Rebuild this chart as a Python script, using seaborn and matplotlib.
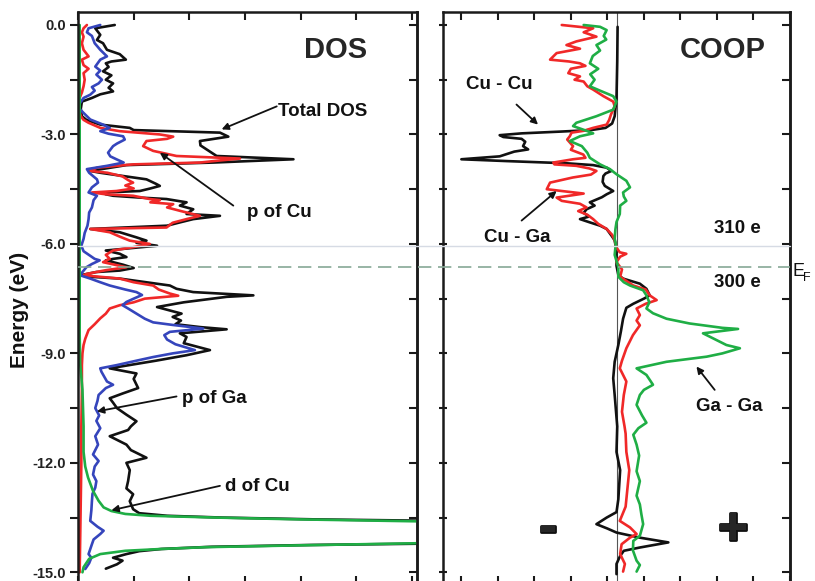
import numpy as np
import matplotlib as mpl
import matplotlib.pyplot as plt
import matplotlib.transforms as mtransforms
import matplotlib.patheffects as pe
from matplotlib.lines import Line2D
import seaborn as sns

mpl.use("Agg")

# ---------------- DOS panel (energy in eV, DOS in arbitrary units) ----------------
total_E = [0.0, -0.09, -0.27, -0.41, -0.5, -0.68, -0.8, -0.95, -1.0, -1.05, -1.15, -1.27,
           -1.38, -1.5, -1.6, -1.72, -1.82, -1.9, -2.0, -2.1, -2.3, -2.5, -2.6, -2.73, -2.82,
           -2.88, -2.95, -3.06, -3.18, -3.3, -3.41, -3.59, -3.68, -3.77, -3.84, -4.0, -4.05,
           -4.23, -4.36, -4.41, -4.48, -4.55, -4.59, -4.64, -4.68, -4.73, -4.77, -4.86, -4.95,
           -5.05, -5.18, -5.23, -5.32, -5.41, -5.5, -5.59, -5.68, -5.82, -5.91, -5.97, -6.05,
           -6.09, -6.18, -6.27, -6.36, -6.41, -6.45, -6.57, -6.66, -6.73, -6.77, -6.86, -6.9,
           -6.95, -7.14, -7.23, -7.32, -7.41, -7.45, -7.6, -7.73, -7.91, -8.0, -8.1, -8.2,
           -8.28, -8.34, -8.45, -8.55, -8.72, -8.91, -9.05, -9.2, -9.41, -9.55, -9.7, -9.95,
           -10.1, -10.23, -10.35, -10.5, -10.68, -10.86, -11.0, -11.1, -11.27, -11.5, -11.65,
           -11.86, -12.0, -12.2, -12.5, -12.7, -12.86, -13.05, -13.27, -13.38, -13.45, -13.5,
           -13.55, -13.6, -13.66, -13.9, -14.15, -14.2, -14.25, -14.3, -14.36, -14.42, -14.5,
           -14.6, -14.68, -14.78, -14.86, -14.9]
total_D = [0.66, 0.31, 0.4, 0.34, 0.45, 0.52, 0.75, 0.86, 0.6, 0.5, 0.55, 0.45, 0.6, 0.5,
           0.63, 0.55, 0.63, 0.4, 0.25, 0.07, 0.05, 0.07, 0.15, 0.4, 0.93, 1.0, 2.55, 2.7,
           2.19, 2.2, 2.31, 2.49, 3.87, 2.43, 0.87, 0.22, 0.4, 1.23, 1.41, 1.47, 1.3, 1.11,
           0.45, 0.5, 0.63, 1.11, 1.59, 1.95, 1.83, 2.07, 1.95, 2.55, 2.07, 1.83, 1.6, 0.22,
           0.75, 1.05, 1.23, 1.05, 1.42, 1.13, 0.5, 0.75, 0.87, 0.63, 0.5, 0.81, 1.0, 0.75,
           0.33, 0.04, 0.22, 0.75, 1.65, 1.77, 2.07, 3.15, 2.67, 1.9, 1.42, 1.86, 1.7, 1.85,
           1.75, 2.2, 2.67, 1.83, 1.95, 1.9, 2.37, 1.95, 1.4, 0.57, 1.05, 1.0, 1.08, 0.8, 0.57,
           0.63, 0.7, 0.87, 1.05, 0.95, 0.9, 0.57, 0.87, 0.95, 1.23, 0.87, 0.93, 0.9, 0.87,
           0.99, 0.93, 0.99, 1.1, 1.6, 2.6, 4.3, 7.0, 10.0, 14.0, 10.0, 7.0, 4.2, 2.4, 1.5,
           1.1, 0.87, 0.63, 0.8, 0.7, 0.57, 0.5]

pCu_E = [0.0, -0.09, -0.2, -0.32, -0.5, -0.68, -0.86, -0.95, -1.1, -1.2, -1.32, -1.5, -1.68,
         -1.85, -2.0, -2.3, -2.5, -2.6, -2.68, -2.82, -2.91, -3.0, -3.06, -3.12, -3.18, -3.32,
         -3.45, -3.59, -3.66, -3.72, -3.77, -3.82, -3.91, -4.0, -4.05, -4.15, -4.25, -4.32,
         -4.4, -4.48, -4.55, -4.59, -4.64, -4.68, -4.77, -4.8, -4.86, -4.91, -5.0, -5.1,
         -5.23, -5.32, -5.42, -5.55, -5.59, -5.68, -5.8, -5.91, -6.0, -6.09, -6.18, -6.3,
         -6.41, -6.5, -6.64, -6.72, -6.82, -6.86, -6.95, -7.05, -7.14, -7.25, -7.36, -7.42,
         -7.5, -7.6, -7.68, -7.77, -7.91, -8.04, -8.2, -8.36, -8.6, -8.77, -9.0, -9.32,
         -10.0, -11.0, -12.0, -13.0, -14.0, -15.0]
pCu_D = [0.16, 0.1, 0.07, 0.1, 0.07, 0.1, 0.19, 0.07, 0.1, 0.19, 0.1, 0.12, 0.1, 0.07, 0.03,
         0.02, 0.05, 0.1, 0.19, 0.4, 0.75, 1.47, 1.71, 1.6, 1.23, 1.17, 1.35, 1.77, 2.91,
         2.5, 2.19, 0.99, 0.34, 0.22, 0.53, 0.8, 0.9, 0.99, 0.85, 1.0, 0.69, 0.25, 0.5, 0.99,
         1.29, 1.47, 1.3, 1.71, 1.6, 1.85, 2.19, 1.95, 1.7, 1.59, 0.22, 0.57, 0.75, 0.93,
         1.29, 0.99, 0.63, 0.5, 0.57, 0.45, 0.87, 0.5, 0.16, 0.1, 0.75, 1.0, 1.35, 1.45,
         1.65, 1.8, 1.2, 1.0, 0.75, 0.57, 0.5, 0.4, 0.3, 0.19, 0.13, 0.1, 0.08, 0.07, 0.07,
         0.06, 0.06, 0.05, 0.04, 0.03]

pGa_E = [0.0, -0.09, -0.2, -0.3, -0.5, -0.68, -0.86, -0.95, -1.14, -1.25, -1.36, -1.5, -1.6,
         -1.7, -1.8, -1.91, -2.0, -2.15, -2.3, -2.41, -2.59, -2.73, -2.82, -2.91, -2.98,
         -3.05, -3.14, -3.25, -3.32, -3.5, -3.6, -3.68, -3.77, -3.86, -3.95, -4.05, -4.23,
         -4.32, -4.45, -4.59, -4.68, -4.8, -5.0, -5.14, -5.32, -5.5, -5.7, -5.86, -6.05,
         -6.2, -6.41, -6.45, -6.55, -6.64, -6.77, -6.86, -6.95, -7.05, -7.14, -7.25, -7.32,
         -7.4, -7.5, -7.59, -7.68, -7.77, -7.91, -8.05, -8.15, -8.22, -8.32, -8.41, -8.5,
         -8.62, -8.75, -8.91, -9.0, -9.1, -9.2, -9.32, -9.41, -9.5, -9.77, -9.86, -9.95,
         -10.14, -10.3, -10.5, -10.7, -10.85, -11.05, -11.27, -11.5, -11.77, -11.95, -12.1,
         -12.32, -12.5, -12.68, -12.85, -13.05, -13.3, -13.59, -13.75, -13.86, -13.95,
         -14.1, -14.23, -14.5, -14.6, -14.75, -14.91]
pGa_D = [0.4, 0.19, 0.16, 0.25, 0.3, 0.4, 0.52, 0.4, 0.31, 0.4, 0.33, 0.43, 0.37, 0.25, 0.3,
         0.22, 0.1, 0.03, 0.03, 0.1, 0.22, 0.45, 0.57, 0.4, 0.55, 0.81, 0.84, 0.7, 0.63,
         0.54, 0.58, 0.69, 0.82, 0.52, 0.16, 0.2, 0.34, 0.36, 0.25, 0.19, 0.34, 0.28, 0.25,
         0.2, 0.19, 0.17, 0.12, 0.1, 0.06, 0.1, 0.3, 0.39, 0.25, 0.15, 0.08, 0.04, 0.22, 0.4,
         0.57, 0.85, 1.05, 1.15, 1.0, 0.87, 0.8, 0.9, 1.05, 1.2, 1.35, 1.7, 2.25, 1.65, 1.55,
         1.6, 1.75, 2.1, 1.7, 1.35, 1.05, 0.7, 0.4, 0.42, 0.52, 0.63, 0.5, 0.37, 0.35, 0.31,
         0.38, 0.33, 0.4, 0.31, 0.36, 0.27, 0.37, 0.3, 0.27, 0.33, 0.31, 0.26, 0.25, 0.24,
         0.22, 0.35, 0.46, 0.4, 0.28, 0.25, 0.19, 0.24, 0.2, 0.13]

dCu_E = [0.0, -8.5, -9.3, -10.0, -11.0, -11.7, -12.1, -12.4, -12.77, -13.04, -13.22, -13.32,
         -13.4, -13.45, -13.5, -13.55, -13.6, -13.66, -13.9, -14.15, -14.2, -14.26, -14.31,
         -14.36, -14.41, -14.5, -14.63, -14.86, -15.0]
dCu_D = [0.03, 0.03, 0.04, 0.08, 0.1, 0.1, 0.13, 0.18, 0.27, 0.37, 0.46, 0.6, 0.85, 1.3,
         2.5, 4.0, 6.0, 9.0, 14.0, 9.0, 6.2, 4.0, 2.3, 1.5, 0.85, 0.4, 0.2, 0.1, 0.08]

# ---------------- COOP panel ----------------
cucu_E = [-0.05, -1.0, -2.0, -2.5, -2.7, -2.82, -2.88, -2.92, -2.97, -3.02, -3.07, -3.12,
          -3.2, -3.32, -3.41, -3.47, -3.6, -3.68, -3.73, -3.79, -3.84, -3.91, -4.0, -4.07,
          -4.14, -4.3, -4.41, -4.55, -4.64, -4.72, -4.86, -4.95, -5.05, -5.15, -5.25, -5.32,
          -5.41, -5.5, -5.59, -5.77, -5.9, -6.2, -6.6, -6.85, -6.95, -7.09, -7.23, -7.41,
          -7.5, -7.64, -7.75, -8.05, -8.4, -8.77, -9.23, -9.68, -10.14, -11.0, -11.7, -12.2,
          -13.0, -13.35, -13.5, -13.68, -13.8, -13.91, -14.05, -14.18, -14.32, -14.41,
          -14.55, -14.77, -15.05]
cucu_C = [0.03, 0.02, 0.0, -0.05, -0.12, -0.3, -0.7, -1.5, -2.6, -3.2, -3.1, -2.6, -2.5,
          -2.56, -2.42, -2.8, -3.2, -4.25, -3.0, -1.37, -0.64, -0.27, -0.14, -0.3, -0.36,
          -0.38, -0.32, -0.09, -0.27, -0.4, -0.73, -0.6, -0.82, -0.9, -0.75, -1.0, -0.73,
          -0.45, -0.27, -0.14, -0.05, 0.0, 0.0, 0.05, 0.18, 0.64, 0.82, 0.91, 0.75, 0.46,
          0.27, 0.18, 0.12, 0.05, -0.05, -0.09, -0.05, 0.02, 0.0, 0.1, 0.05, 0.0, -0.27,
          -0.55, -0.25, 0.0, 0.64, 1.42, 0.64, 0.2, 0.1, 0.0, 0.0]

cuga_E = [0.0, -0.09, -0.2, -0.32, -0.45, -0.55, -0.65, -0.77, -0.95, -1.0, -1.05, -1.12,
          -1.2, -1.32, -1.41, -1.5, -1.55, -1.68, -1.77, -1.95, -2.1, -2.23, -2.45, -2.6,
          -2.73, -2.82, -2.9, -2.95, -3.05, -3.14, -3.32, -3.42, -3.55, -3.64, -3.68, -3.77,
          -3.82, -3.86, -3.93, -4.0, -4.1, -4.18, -4.32, -4.5, -4.55, -4.62, -4.68, -4.73,
          -4.82, -4.9, -5.0, -5.1, -5.2, -5.32, -5.45, -5.59, -5.75, -5.9, -6.1, -6.23,
          -6.27, -6.35, -6.5, -6.7, -6.9, -7.0, -7.14, -7.25, -7.41, -7.54, -7.64, -7.77,
          -7.95, -8.1, -8.23, -8.5, -8.86, -9.2, -9.41, -9.77, -10.14, -10.6, -11.0, -11.2,
          -11.7, -12.2, -12.7, -13.2, -13.59, -13.77, -13.95, -14.05, -14.23, -14.5, -14.77,
          -14.98]
cuga_C = [-1.5, -0.64, -0.9, -0.55, -1.1, -1.37, -1.0, -1.64, -1.82, -1.3, -1.0, -0.85,
          -1.25, -1.32, -1.0, -1.15, -0.9, -0.8, -0.64, -0.36, -0.09, -0.05, -0.15, -0.2,
          -0.27, -0.64, -0.9, -1.23, -1.28, -1.35, -1.19, -1.25, -0.91, -0.85, -1.19, -1.73,
          -1.7, -1.1, -0.75, -0.55, -0.7, -1.2, -1.82, -1.91, -1.5, -0.9, -1.3, -1.64, -1.5,
          -1.0, -0.82, -1.05, -0.8, -0.64, -0.5, -0.27, -0.12, -0.05, 0.0, 0.09, 0.27, 0.1,
          0.0, 0.15, 0.1, 0.25, 0.46, 0.8, 0.91, 1.1, 0.8, 0.55, 0.64, 0.55, 0.64, 0.45,
          0.27, 0.15, 0.09, 0.27, 0.2, 0.15, 0.22, 0.25, 0.27, 0.35, 0.3, 0.25, 0.09, 0.37,
          0.55, 0.37, 0.14, 0.1, 0.23, 0.18]

gaga_E = [0.0, -0.05, -0.14, -0.3, -0.4, -0.55, -0.7, -0.85, -1.05, -1.2, -1.35, -1.5,
          -1.68, -1.8, -1.95, -2.1, -2.32, -2.5, -2.68, -2.77, -2.9, -2.97, -3.05, -3.18,
          -3.32, -3.5, -3.64, -3.82, -3.95, -4.09, -4.27, -4.45, -4.59, -4.7, -4.82, -4.95,
          -5.18, -5.4, -5.6, -5.86, -6.0, -6.3, -6.64, -6.9, -7.05, -7.14, -7.27, -7.41,
          -7.6, -7.77, -7.9, -8.05, -8.18, -8.3, -8.33, -8.45, -8.59, -8.77, -8.86, -9.0,
          -9.09, -9.23, -9.41, -9.59, -9.86, -10.0, -10.14, -10.41, -10.7, -10.9, -11.05,
          -11.23, -11.5, -11.8, -12.23, -12.5, -12.9, -13.14, -13.4, -13.68, -14.0, -14.14,
          -14.4, -14.68, -14.8, -14.98]
gaga_C = [-0.9, -0.45, -0.27, -0.35, -0.28, -0.55, -0.45, -0.65, -0.73, -0.5, -0.72, -0.6,
          -0.73, -0.45, -0.09, 0.0, -0.09, -0.55, -1.1, -1.19, -0.82, -0.64, -1.0, -1.28,
          -0.95, -0.8, -0.73, -0.45, -0.18, 0.0, 0.27, 0.37, 0.18, 0.2, 0.27, 0.1, 0.09, 0.0,
          -0.03, -0.05, -0.02, -0.05, 0.05, 0.05, 0.2, 0.37, 0.73, 0.82, 0.9, 0.82, 1.0,
          1.37, 2.0, 2.9, 3.33, 2.37, 2.65, 3.01, 3.38, 2.9, 2.47, 1.37, 0.55, 0.82, 1.0,
          0.75, 0.64, 0.55, 0.7, 0.82, 0.6, 0.46, 0.55, 0.62, 0.55, 0.64, 0.55, 0.64, 0.68,
          0.73, 0.64, 0.46, 0.45, 0.55, 0.64, 0.55]

E_TICKS = [0.0, -1.5, -3.0, -4.5, -6.0, -7.5, -9.0, -10.5, -12.0, -13.5, -15.0]
E_LABELS = ["0.0", "", "-3.0", "", "-6.0", "", "-9.0", "", "-12.0", "", "-15.0"]
DOS_TICKS = [0, 1, 2, 3, 4, 5, 6]
COOP_TICKS = [-4.25, -3.25, -2.25, -1.25, -0.25, 0.75, 1.75, 2.75, 3.75, 4.75]
E_FERMI = -6.63
E_310 = -6.05

BLACK = "#111111"
RED = "#f02828"
BLUE = "#3545bc"
GREEN = "#1fae45"
LW = 1.9
SPINE = "#1a1a1a"

sns.set_style("white")
plt.rcParams["font.family"] = ["Liberation Sans", "DejaVu Sans"]

W, H = 815, 581
fig = plt.figure(figsize=(W / 100, H / 100), dpi=100)
ax1 = fig.add_axes([78 / W, -3 / H, 339 / W, 572 / H])
ax2 = fig.add_axes([443 / W, -3 / H, 347 / W, 572 / H])
YLIM = (-15.32, 0.356)


def style_axes(ax, xticks, left_dir):
    ax.set_ylim(*YLIM)
    for sp in ax.spines.values():
        sp.set_linewidth(1.8)
        sp.set_color(SPINE)
    ax.set_xticks(xticks)
    ax.set_xticklabels([])
    ax.tick_params(axis="x", top=True, bottom=True, direction="in",
                   length=5.5, width=1.5, color=SPINE)
    ax.set_yticks(E_TICKS)
    ax.tick_params(axis="y", left=True, right=False, direction=left_dir,
                   length=5.5, width=1.5, color=SPINE)
    sec = ax.secondary_yaxis("right")
    sec.set_yticks(E_TICKS)
    sec.set_yticklabels([])
    sec.tick_params(direction="in", length=5.5, width=1.5, color=SPINE)
    sec.spines["right"].set_linewidth(1.8)
    sec.spines["right"].set_color(SPINE)
    ax.set_xlabel("")
    ax.set_ylabel("")


# DOS panel
sns.lineplot(x=total_D, y=total_E, sort=False, estimator=None, color=BLACK, lw=LW, ax=ax1)
sns.lineplot(x=pCu_D, y=pCu_E, sort=False, estimator=None, color=RED, lw=LW, ax=ax1)
sns.lineplot(x=pGa_D, y=pGa_E, sort=False, estimator=None, color=BLUE, lw=LW, ax=ax1)
sns.lineplot(x=dCu_D, y=dCu_E, sort=False, estimator=None, color=GREEN, lw=LW, ax=ax1)
ax1.set_xlim(0, 339 / 55.67)
style_axes(ax1, DOS_TICKS, "out")
ax1.set_yticklabels(E_LABELS, fontsize=10.5, fontweight="bold", color="#222222")
ax1.tick_params(axis="y", pad=3)

# COOP panel
ax2.axvline(0, color="#555555", lw=0.8, zorder=1)
sns.lineplot(x=cucu_C, y=cucu_E, sort=False, estimator=None, color=BLACK, lw=LW, ax=ax2)
sns.lineplot(x=cuga_C, y=cuga_E, sort=False, estimator=None, color=RED, lw=LW, ax=ax2)
sns.lineplot(x=gaga_C, y=gaga_E, sort=False, estimator=None, color=GREEN, lw=LW, ax=ax2)
ax2.set_xlim(-4.753, 4.753)
style_axes(ax2, COOP_TICKS, "inout")
ax2.set_yticklabels([])

# Fermi level and 310 e lines spanning both panels
trans = mtransforms.blended_transform_factory(fig.transFigure, ax1.transData)
fig.add_artist(Line2D([78 / W, 790 / W], [E_310, E_310], transform=trans,
                      color="#d6dbe4", lw=1.0, zorder=3))
fig.add_artist(Line2D([78 / W, 790 / W], [E_FERMI, E_FERMI], transform=trans,
                      color="#86a896", lw=1.2, dashes=(8, 4), zorder=3))

# labels
ann = dict(fontsize=13.5, fontweight="bold", color="#111111")
arrow = dict(arrowstyle="-|>", color="#111111", lw=1.3, mutation_scale=10,
             shrinkA=0, shrinkB=0)
thick = [pe.withStroke(linewidth=2.0, foreground="#111111")]

ax1.text(4.62, -0.68, "DOS", fontsize=21, fontweight="bold", ha="center", va="center")
ax1.text(3.59, -2.37, "Total DOS", ha="left", va="center", **ann)
ax1.annotate("", xy=(2.58, -2.86), xytext=(3.57, -2.23), arrowprops=arrow)
ax1.text(3.03, -5.14, "p of Cu", ha="left", va="center", **ann)
ax1.annotate("", xy=(1.47, -3.5), xytext=(2.79, -4.95), arrowprops=arrow)
ax1.text(1.86, -10.23, "p of Ga", ha="left", va="center", **ann)
ax1.annotate("", xy=(0.34, -10.59), xytext=(1.77, -10.18), arrowprops=arrow)
ax1.text(2.64, -12.64, "d of Cu", ha="left", va="center", **ann)
ax1.annotate("", xy=(0.6, -13.3), xytext=(2.55, -12.63), arrowprops=arrow)

ax2.text(2.91, -0.68, "COOP", fontsize=21, fontweight="bold", ha="center", va="center")
ax2.text(-3.2, -1.64, "Cu - Cu", ha="center", va="center", **ann)
ax2.annotate("", xy=(-2.15, -2.73), xytext=(-2.74, -2.18), arrowprops=arrow)
ax2.text(-2.72, -5.82, "Cu - Ga", ha="center", va="center", **ann)
ax2.annotate("", xy=(-1.64, -4.55), xytext=(-2.6, -5.36), arrowprops=arrow)
ax2.text(3.1, -10.45, "Ga - Ga", ha="center", va="center", **ann)
ax2.annotate("", xy=(2.19, -9.36), xytext=(2.69, -10.0), arrowprops=arrow)
ax2.text(3.3, -5.59, "310 e", ha="center", va="center", **ann)
ax2.text(3.3, -7.05, "300 e", ha="center", va="center", **ann)
ax2.text(-1.88, -13.8, "-", fontsize=38, fontweight="bold", ha="center", va="center",
         path_effects=thick)
ax2.text(3.19, -13.85, "+", fontsize=38, fontweight="bold", ha="center", va="center",
         path_effects=thick)

fig.text(792 / W, 1 - 272 / H, "E", fontsize=13, ha="left", va="center", color="#111111")
fig.text(803 / W, 1 - 278 / H, "F", fontsize=9, ha="left", va="center", color="#111111")
fig.text(20 / W, 1 - 310 / H, "Energy (eV)", rotation=90, fontsize=15, fontweight="bold",
         ha="center", va="center", color="#111111")

fig.savefig("out.png", dpi=100)
